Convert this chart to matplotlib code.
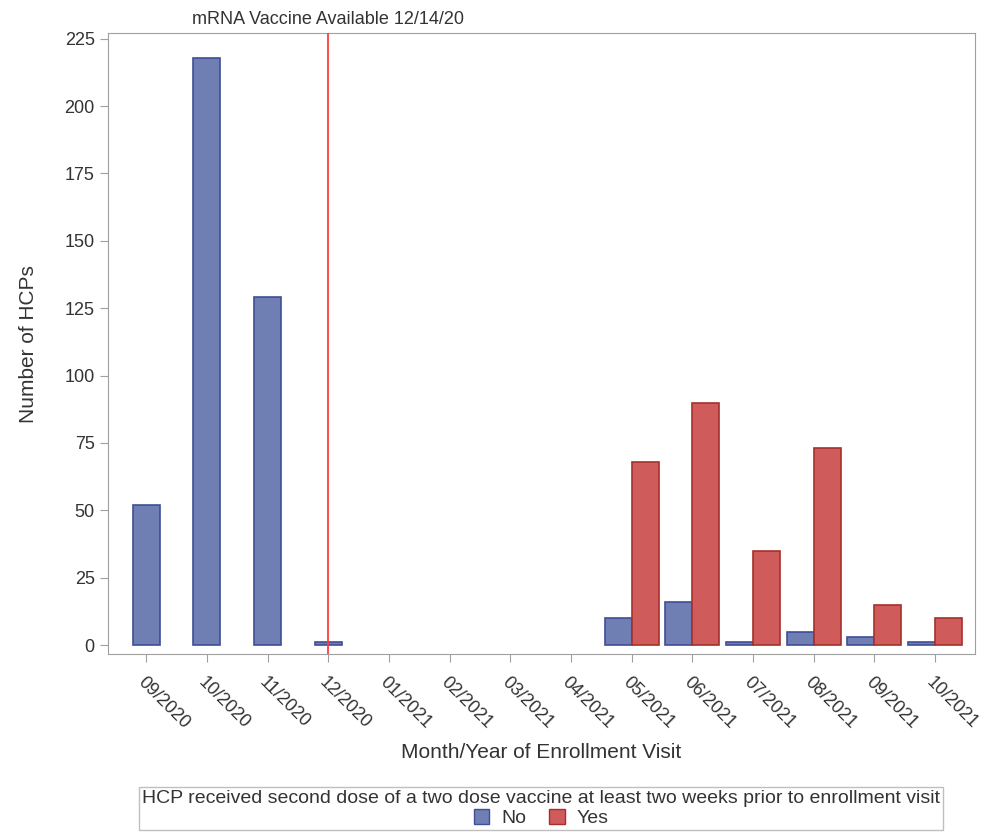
import numpy as np
import matplotlib.pyplot as plt
from matplotlib.patches import Patch

plt.rcParams['font.family'] = ['Liberation Sans', 'DejaVu Sans']

months = ['09/2020', '10/2020', '11/2020', '12/2020', '01/2021', '02/2021', '03/2021',
          '04/2021', '05/2021', '06/2021', '07/2021', '08/2021', '09/2021', '10/2021']
no_counts = [52, 218, 129, 1, 0, 0, 0, 0, 10, 16, 1, 5, 3, 1]
yes_counts = [None, None, None, None, None, None, None, None, 68, 90, 35, 73, 15, 10]

blue, blue_edge = '#6F7EB3', '#3F4F96'
red, red_edge = '#D05B5B', '#A5302B'
frame = '#A0A0A0'
txt = '#333333'

fig = plt.figure(figsize=(9.84, 8.32), dpi=100)
ax = fig.add_axes([0.1098, 0.214, 0.881, 0.746])

w = 0.445
for i, (n, y) in enumerate(zip(no_counts, yes_counts)):
    if y is None:
        if n > 0:
            ax.bar(i, n, width=w, color=blue, edgecolor=blue_edge, linewidth=1.2)
    else:
        ax.bar(i - w / 2, n, width=w, color=blue, edgecolor=blue_edge, linewidth=1.2)
        ax.bar(i + w / 2, y, width=w, color=red, edgecolor=red_edge, linewidth=1.2)

ax.axvline(3, color='#FF3B3B', linewidth=1.3, zorder=3)
ax.text(3, 1.008, 'mRNA Vaccine Available 12/14/20', transform=ax.get_xaxis_transform(),
        ha='center', va='bottom', fontsize=13, color=txt)

ax.set_xlim(-0.63, 13.66)
ax.set_ylim(-3.3, 227)
ax.set_yticks([0, 25, 50, 75, 100, 125, 150, 175, 200, 225])
ax.set_xticks(range(len(months)))
ax.set_xticklabels(months, rotation=-45, ha='left', va='top', rotation_mode='anchor')

for s in ax.spines.values():
    s.set_color(frame)
ax.tick_params(axis='both', colors=frame, labelcolor=txt, labelsize=13, length=6)
ax.tick_params(axis='x', pad=8)

ax.set_xlabel('Month/Year of Enrollment Visit', fontsize=15, color=txt, labelpad=8)
ax.set_ylabel('Number of HCPs', fontsize=15, color=txt, labelpad=19)

handles = [Patch(facecolor=blue, edgecolor=blue_edge, label='No'),
           Patch(facecolor=red, edgecolor=red_edge, label='Yes')]
leg = fig.legend(handles=handles, ncol=2, loc='lower center', bbox_to_anchor=(0.55, -0.009),
                 title='HCP received second dose of a two dose vaccine at least two weeks prior to enrollment visit',
                 fontsize=14, title_fontsize=14, fancybox=False, edgecolor='#B0B0B0',
                 handlelength=0.8, handleheight=0.8, handletextpad=0.6, columnspacing=1.2,
                 borderpad=0.15, labelspacing=0.1)
leg.get_frame().set_linewidth(1.0)
leg.get_title().set_color(txt)
for t in leg.get_texts():
    t.set_color(txt)

fig.savefig('out.png', dpi=100, facecolor='white')
